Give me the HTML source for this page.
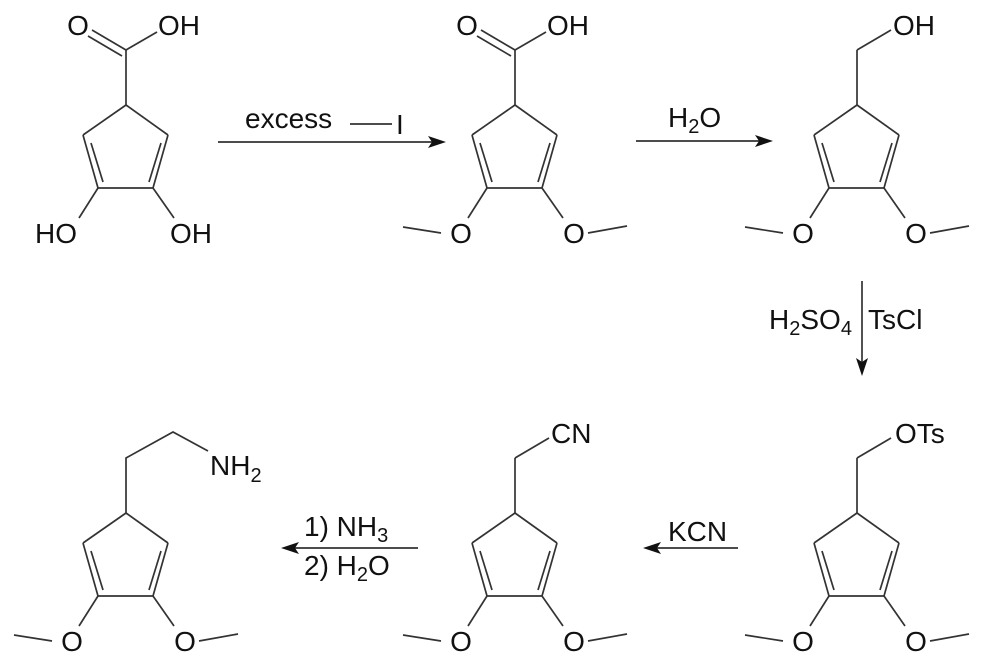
<!DOCTYPE html>
<html><head><meta charset="utf-8"><style>
html,body{margin:0;padding:0;background:#fff;}
svg{display:block;}
text{font-family:"Liberation Sans",Arial,sans-serif;fill:#111;}
</style></head><body>
<svg width="1000" height="659" viewBox="0 0 1000 659" xmlns="http://www.w3.org/2000/svg">
<defs>
<g id="ring" stroke="#333" stroke-width="1.7" fill="none">
<line x1="126" y1="105" x2="83" y2="135"/>
<line x1="126" y1="105" x2="168" y2="135"/>
<line x1="83" y1="135" x2="98" y2="188"/>
<line x1="91" y1="143" x2="103" y2="182"/>
<line x1="168" y1="135" x2="153" y2="188"/>
<line x1="161" y1="143" x2="149" y2="182"/>
<line x1="98" y1="188" x2="153" y2="188"/>
</g>
<g id="ome">
<g stroke="#333" stroke-width="1.7" fill="none">
<line x1="98" y1="188" x2="79" y2="218"/>
<line x1="153" y1="188" x2="174" y2="218"/>
<line x1="14" y1="227" x2="52" y2="233"/>
<line x1="199" y1="233" x2="238" y2="226"/>
</g>
<text x="72" y="243" font-size="28" text-anchor="middle">O</text>
<text x="185" y="243" font-size="28" text-anchor="middle">O</text>
</g>
<g id="cooh">
<g stroke="#333" stroke-width="1.7" fill="none">
<line x1="126" y1="105" x2="126" y2="50"/>
<line x1="126" y1="50" x2="92" y2="30"/>
<line x1="122" y1="56" x2="88" y2="36"/>
<line x1="126" y1="50" x2="157" y2="32"/>
</g>
<text x="78" y="35" font-size="28" text-anchor="middle">O</text>
<text x="158" y="35" font-size="28">OH</text>
</g>
</defs>

<use href="#ring"/>
<use href="#cooh"/>
<g stroke="#333" stroke-width="1.7"><line x1="98" y1="188" x2="79" y2="218"/><line x1="153" y1="188" x2="174" y2="218"/></g>
<text x="35" y="243" font-size="28">HO</text>
<text x="170" y="243" font-size="28">OH</text>

<g transform="translate(389,0)"><use href="#ring"/><use href="#cooh"/><use href="#ome"/></g>

<g transform="translate(731,0)"><use href="#ring"/><use href="#ome"/>
<g stroke="#333" stroke-width="1.7"><line x1="126" y1="105" x2="126" y2="50"/><line x1="126" y1="50" x2="160" y2="30"/></g>
<text x="162" y="35" font-size="28">OH</text></g>

<g transform="translate(0,408)"><use href="#ring"/><use href="#ome"/>
<g stroke="#333" stroke-width="1.7" fill="none"><polyline points="126,105 126,50 173,24 208,43"/></g>
<text x="210" y="67" font-size="28">NH<tspan font-size="20" dy="7">2</tspan></text></g>

<g transform="translate(389,408)"><use href="#ring"/><use href="#ome"/>
<g stroke="#333" stroke-width="1.7"><line x1="126" y1="105" x2="126" y2="50"/><line x1="126" y1="50" x2="160" y2="30"/></g>
<text x="162" y="35" font-size="28">CN</text></g>

<g transform="translate(731,408)"><use href="#ring"/><use href="#ome"/>
<g stroke="#333" stroke-width="1.7"><line x1="126" y1="105" x2="126" y2="50"/><line x1="126" y1="50" x2="160" y2="30"/></g>
<text x="164" y="35" font-size="28">OTs</text></g>

<g stroke="#333" stroke-width="1.7">
<line x1="218" y1="142" x2="432" y2="142"/>
<line x1="350" y1="124" x2="392" y2="124"/>
<line x1="636" y1="141" x2="760" y2="141"/>
<line x1="862" y1="281" x2="862" y2="362"/>
<line x1="738" y1="548" x2="657" y2="548"/>
<line x1="418" y1="548" x2="295" y2="548"/>
</g>
<g fill="#111">
<polygon points="446,142 428,136 432,142 428,148"/>
<polygon points="773,141 755,135 759,141 755,147"/>
<polygon points="862,376 856,358 862,362 868,358"/>
<polygon points="643,548 661,542 657,548 661,554"/>
<polygon points="281,548 299,542 295,548 299,554"/>
</g>
<text x="245" y="128" font-size="28">excess</text>
<text x="396" y="134" font-size="28">I</text>
<text x="668" y="127" font-size="28">H<tspan font-size="20" dy="6">2</tspan><tspan dy="-6">O</tspan></text>
<text x="769" y="329" font-size="28">H<tspan font-size="20" dy="6">2</tspan><tspan dy="-6">SO</tspan><tspan font-size="20" dy="6">4</tspan></text>
<text x="868" y="329" font-size="28">TsCl</text>
<text x="668" y="541" font-size="28">KCN</text>
<text x="304" y="536" font-size="28">1) NH<tspan font-size="20" dy="6">3</tspan></text>
<text x="304" y="575" font-size="28">2) H<tspan font-size="20" dy="6">2</tspan><tspan dy="-6">O</tspan></text>
</svg>
</body></html>
